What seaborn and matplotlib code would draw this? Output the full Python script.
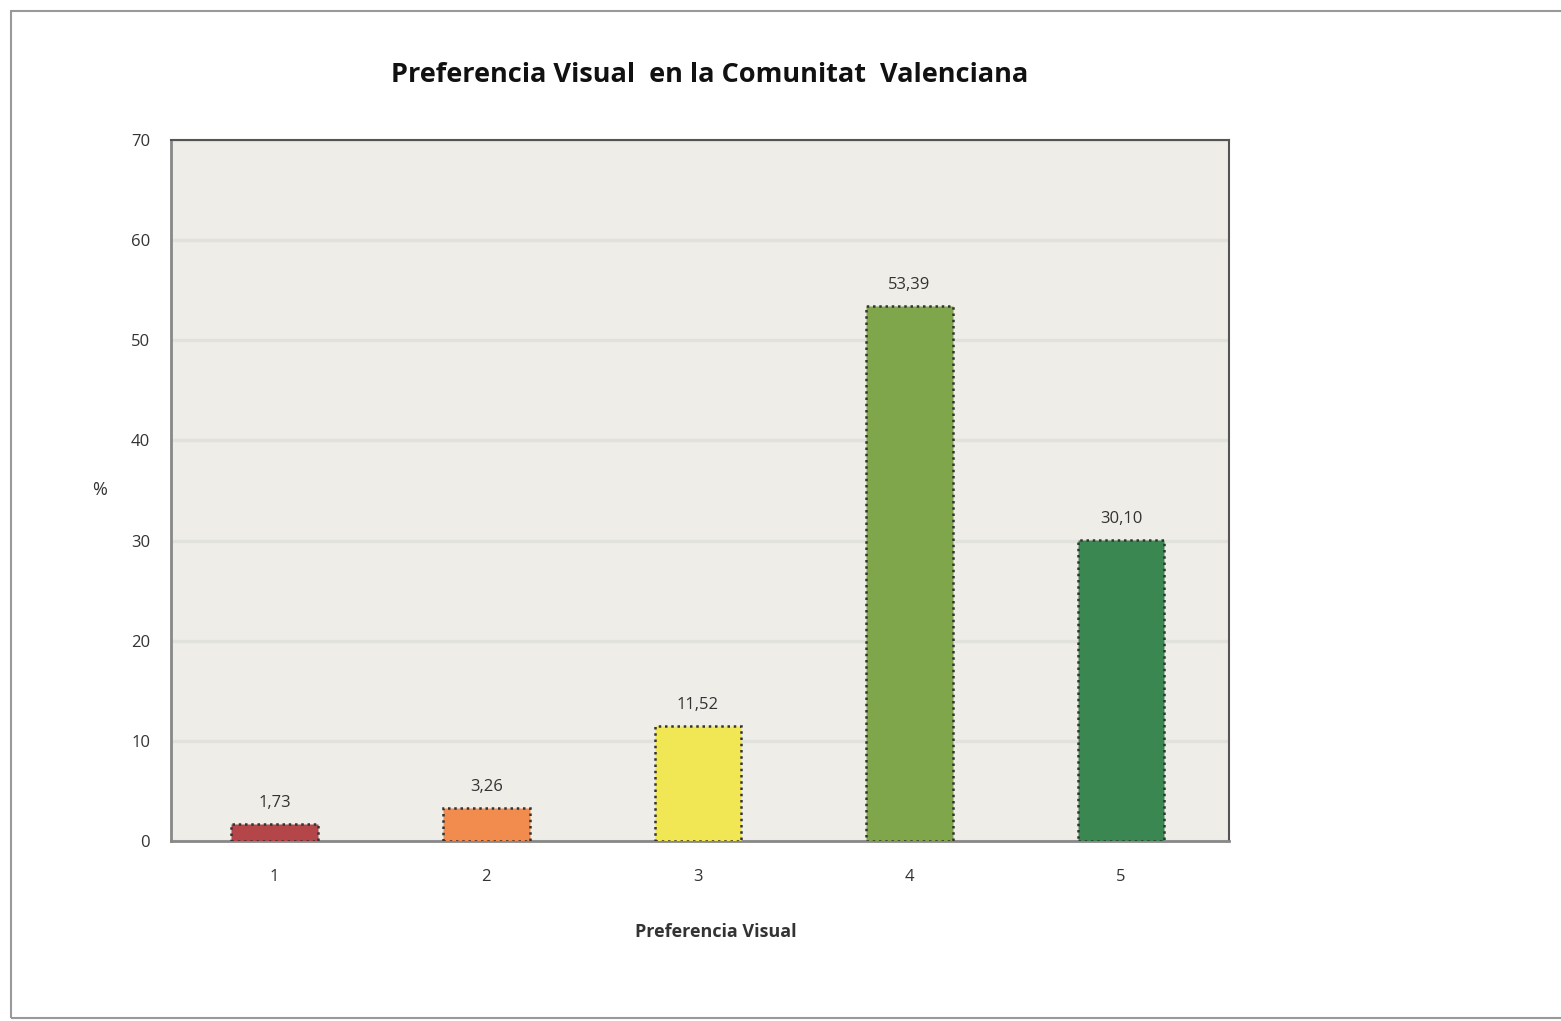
#Imports
import pandas as pd
import matplotlib
matplotlib.use("Agg")
import matplotlib.pyplot as plt
import seaborn as sns
from matplotlib.patches import Rectangle

#Data
categories = ["1", "2", "3", "4", "5"]
values = [1.73, 3.26, 11.52, 53.39, 30.10]
labels = ["1,73", "3,26", "11,52", "53,39", "30,10"]
colors = ["#b4464a", "#f28b4e", "#f1e754", "#7fa64b", "#3b8751"]
yticks = [0, 10, 20, 30, 40, 50, 60, 70]

df = pd.DataFrame({"cat": categories, "val": values})

sns.set_style("white")
plt.rcParams['font.family'] = ['Open Sans', 'DejaVu Sans']

fig = plt.figure(figsize=(15.61, 10.21), dpi=100)
ax = fig.add_axes([171/1561, 1 - 841/1021, (1229-171)/1561, (841-140)/1021])
ax.set_facecolor("#eeede8")

sns.barplot(data=df, x="cat", y="val", hue="cat", palette=colors, legend=False,
            width=0.41, saturation=1, ax=ax, zorder=3)
for bar in ax.patches:
    bar.set_edgecolor("#333333")
    bar.set_linestyle((0, (1, 1.5)))
    bar.set_linewidth(1.8)

#Value labels
for i, (v, lab) in enumerate(zip(values, labels)):
    ax.text(i, v + 1.3, lab, ha="center", va="bottom", fontsize=12, color="#333333")

ax.set_xlim(-0.49, 4.51)
ax.set_ylim(0, 70)
ax.set_yticks(yticks)
ax.grid(axis="y", color="#e2e2dc", lw=2.5, zorder=0)
ax.tick_params(axis="both", labelsize=12, colors="#333333", length=0)
ax.tick_params(axis="y", pad=15)
ax.tick_params(axis="x", pad=20)
for s in ["left", "bottom"]:
    ax.spines[s].set_color("#888888")
    ax.spines[s].set_linewidth(2)
for s in ["top", "right"]:
    ax.spines[s].set_color("#555555")
    ax.spines[s].set_linewidth(1.5)

ax.set_xlabel("Preferencia Visual", fontsize=13, fontweight="bold", color="#333333", va="center")
ax.xaxis.set_label_coords(0.515, -(932 - 841) / 701)
ax.set_ylabel("%", fontsize=13, rotation=0, color="#333333", va="center", ha="center")
ax.yaxis.set_label_coords(-(171 - 100) / 1058, (841 - 490) / 701)

fig.text(710/1561, 1 - 75/1021, "Preferencia Visual  en la Comunitat  Valenciana",
         ha="center", va="center", fontsize=19.5, fontweight="bold", color="#111111")

#Outer frame
fig.patches.append(Rectangle((11/1561, 0.003), 1.2, 1 - 11/1021 - 0.003, transform=fig.transFigure,
                             fill=False, edgecolor="#999999", lw=1.5))

fig.savefig("out.png", dpi=100)
